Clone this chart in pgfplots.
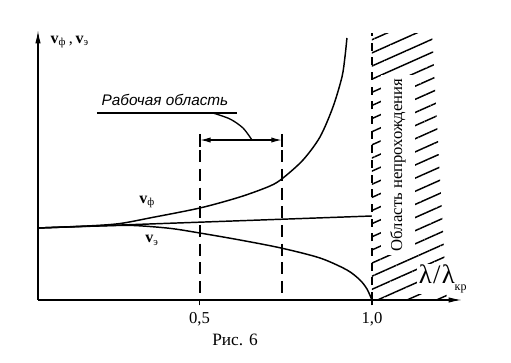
\documentclass[border=0pt]{standalone}
\usepackage{pgfplots}
\pgfplotsset{compat=1.18}
\usepackage{fontspec}
\setmainfont{Liberation Serif}
\newfontfamily\annfont{Liberation Sans}
\usetikzlibrary{arrows.meta,patterns.meta}
\begin{document}
\begin{tikzpicture}
\begin{axis}[
  scale only axis, width=318pt, height=202.5pt,
  xmin=0.0319, xmax=1.261, ymin=0, ymax=3.75,
  axis x line*=bottom, axis y line*=left,
  axis line style={line width=1pt, -{Latex[length=10pt,width=4pt]}},
  xtick={0.5,1.0}, xticklabels={{0,5},{1,0}}, ytick=\empty,
  xtick pos=bottom, xtick align=outside, major tick length=4pt,
  tick style={black, line width=0.9pt},
  xticklabel style={font=\fontsize{12.5}{13}\selectfont, yshift=-2pt},
  clip=false,
]
% hatched region (no propagation)
\addplot[draw=none, pattern={Lines[angle=24,distance=9pt,line width=1.1pt]}]
  coordinates {(1,0) (1,3.708) (1.174,3.708) (1.217,0)} -- cycle;
\node[fill=white, rotate=90, inner xsep=3pt, inner ysep=7pt, font=\fontsize{12.5}{13}\selectfont]
  at (axis cs:1.0754,1.875) {Область непрохождения};
\node[fill=white, inner sep=1pt] at (axis cs:1.205,0.29)
  {{\fontsize{20}{20}\selectfont λ\kern1pt/\kern1ptλ}\raisebox{-5pt}{\fontsize{9}{9}\selectfont кр}};
% boundary
\addplot[black, line width=1pt, dash pattern=on 6pt off 5pt] coordinates {(1,0) (1,3.708)};
% light speed line
\addplot[black, line width=1.1pt] coordinates {(0.0319,1.0) (1.0,1.1667)};
% phase velocity
\addplot[black, line width=1.1pt, smooth, tension=0.5] coordinates {
 (0.0319,1.0) (0.1826,1.030) (0.2696,1.062) (0.3565,1.140) (0.5014,1.278)
 (0.6174,1.431) (0.7043,1.583) (0.7420,1.694) (0.8000,1.944) (0.8493,2.264)
 (0.8870,2.681) (0.9130,3.097) (0.9217,3.375) (0.9275,3.639)};
% energy velocity
\addplot[black, line width=1.1pt, smooth, tension=0.5] coordinates {
 (0.0319,1.0) (0.2116,1.028) (0.3072,1.035) (0.4145,0.995) (0.5014,0.930)
 (0.6174,0.8333) (0.7362,0.7222) (0.8493,0.5833) (0.9275,0.4167)
 (0.9652,0.2778) (0.9855,0.1528) (1.0,0)};
% working region
\addplot[black, line width=1pt, dash pattern=on 9pt off 5pt] coordinates {(0.5014,2.08) (0.5014,0)};
\addplot[black, line width=1pt, dash pattern=on 9pt off 5pt] coordinates {(0.739,2.08) (0.739,0)};
\addplot[black, line width=1pt] coordinates {(0.5014,2.306) (0.5014,2.125)};
\addplot[black, line width=1pt] coordinates {(0.739,2.306) (0.739,2.125)};
\addplot[black, line width=1pt, {Latex[length=8pt,width=4pt]}-{Latex[length=8pt,width=4pt]}]
  coordinates {(0.5014,2.222) (0.739,2.222)};
\addplot[black, line width=1pt] coordinates {(0.2029,2.597) (0.6087,2.597)};
\addplot[black, line width=1pt, smooth] coordinates {(0.5391,2.597) (0.5884,2.514) (0.6261,2.389) (0.6522,2.222)};
\node[font=\annfont\itshape\fontsize{11.5}{12}\selectfont] at (axis cs:0.40,2.78) {Рабочая область};
% labels
\node[font=\fontsize{12}{12}\selectfont] at (axis cs:0.348,1.36) {\textbf{v}\textsubscript{ф}};
\node[font=\fontsize{12}{12}\selectfont] at (axis cs:0.362,0.83) {\textbf{v}\textsubscript{э}};
\node[font=\fontsize{12}{12}\selectfont, anchor=west] at (axis cs:0.055,3.58) {\textbf{v}\textsubscript{ф}\,,\,\textbf{v}\textsubscript{э}};
\node[font=\fontsize{13}{13}\selectfont] at (axis cs:0.603,-0.556) {Рис. 6};
\end{axis}
\pgfresetboundingbox
\path[use as bounding box] (-28.5pt,-47.25pt) rectangle (354.75pt,225pt);
\end{tikzpicture}
\end{document}
